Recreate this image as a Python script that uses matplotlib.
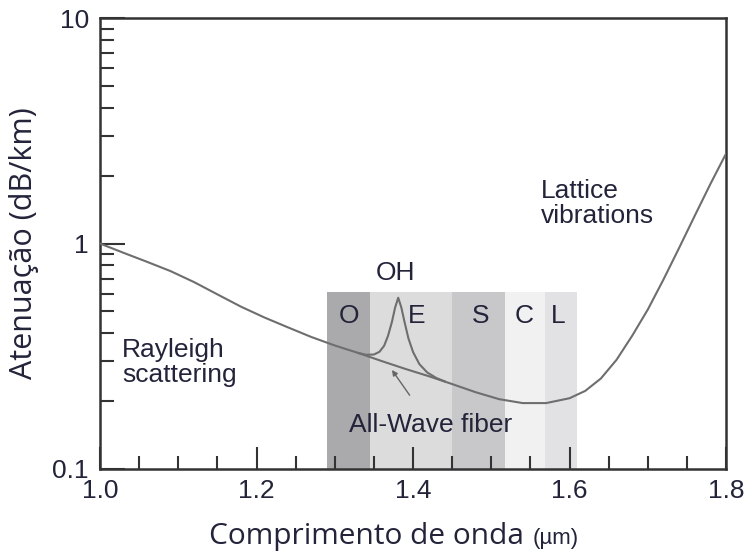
import matplotlib.pyplot as plt
from matplotlib.ticker import FixedLocator, NullFormatter

# bandas de transmissao (um)
band_names = ['O', 'E', 'S', 'C', 'L']
band_start = [1.29, 1.345, 1.45, 1.517, 1.568]
band_end = [1.345, 1.45, 1.517, 1.568, 1.61]
band_colors = ['#aaaaac', '#dcdcdd', '#c8c8ca', '#f1f1f1', '#e2e2e4']
band_top = 0.61
band_label_x = [1.318, 1.405, 1.486, 1.542, 1.585]

# curva principal (All-Wave fiber)
wl = [1.00, 1.03, 1.06, 1.09, 1.12, 1.15, 1.18, 1.21, 1.24, 1.27,
      1.30, 1.33, 1.36, 1.39, 1.42, 1.45, 1.48, 1.51, 1.54, 1.57,
      1.60, 1.62, 1.64, 1.66, 1.68, 1.70, 1.72, 1.74, 1.76, 1.78, 1.80]
att = [1.00, 0.91, 0.83, 0.755, 0.675, 0.595, 0.525, 0.47, 0.425, 0.385,
       0.353, 0.327, 0.301, 0.278, 0.258, 0.238, 0.219, 0.204, 0.196, 0.196,
       0.206, 0.222, 0.252, 0.305, 0.39, 0.51, 0.693, 0.957, 1.33, 1.84, 2.51]

# pico de OH
oh_wl = [1.33, 1.34, 1.35, 1.357, 1.363, 1.368, 1.373, 1.377, 1.381, 1.385,
         1.389, 1.394, 1.40, 1.408, 1.418, 1.43, 1.44]
oh_att = [0.327, 0.321, 0.322, 0.331, 0.352, 0.39, 0.45, 0.52, 0.575, 0.52,
          0.45, 0.38, 0.33, 0.292, 0.268, 0.253, 0.245]

txt = '#23233a'
plt.rcParams['font.family'] = ['Liberation Sans', 'DejaVu Sans']

fig = plt.figure(figsize=(7.47, 5.53), dpi=100)
ax = fig.add_axes([0.134, 0.152, 0.838, 0.815])

for x0, x1, c in zip(band_start, band_end, band_colors):
    ax.fill_between([x0, x1], 0.1, band_top, color=c, lw=0, zorder=0)
for name, x in zip(band_names, band_label_x):
    ax.text(x, 0.477, name, ha='center', va='center', fontsize=19, color=txt)

ax.plot(wl, att, color='#6e6e6e', lw=1.5, zorder=3)
ax.plot(oh_wl, oh_att, color='#6e6e6e', lw=1.5, zorder=3)

ax.text(1.377, 0.74, 'OH', ha='center', va='center', fontsize=19, color=txt)
ax.text(1.028, 0.298, 'Rayleigh\nscattering', ha='left', va='center',
        fontsize=19, color=txt, linespacing=1.05)
ax.text(1.563, 1.51, 'Lattice\nvibrations', ha='left', va='center',
        fontsize=19, color=txt, linespacing=1.05)
ax.annotate('All-Wave fiber', xy=(1.373, 0.275), xytext=(1.422, 0.157),
            ha='center', va='center', fontsize=19, color=txt,
            arrowprops=dict(arrowstyle='-|>', color='#666666', lw=1.0,
                            shrinkA=13, shrinkB=0, mutation_scale=8))

ax.set_yscale('log')
ax.set_xlim(1.0, 1.8)
ax.set_ylim(0.1, 10)

ax.xaxis.set_major_locator(FixedLocator([1.0, 1.2, 1.4, 1.6, 1.8]))
ax.xaxis.set_minor_locator(FixedLocator([1.0 + 0.05 * i for i in range(17)]))
ax.set_xticklabels(['1.0', '1.2', '1.4', '1.6', '1.8'])
ax.yaxis.set_major_locator(FixedLocator([0.1, 1, 10]))
ax.yaxis.set_minor_locator(FixedLocator([k * 0.1 for k in range(2, 10)] + list(range(2, 10))))
ax.yaxis.set_minor_formatter(NullFormatter())
ax.set_yticklabels(['0.1', '1', '10'])

ax.tick_params(which='both', direction='in', width=1.5, color='#333333',
               labelsize=19, labelcolor=txt)
ax.tick_params(axis='x', which='major', length=16, pad=7)
ax.tick_params(axis='x', which='minor', length=9.5)
ax.tick_params(axis='y', which='major', length=18, pad=8)
ax.tick_params(axis='y', which='minor', length=10)
for s in ax.spines.values():
    s.set_linewidth(1.8)
    s.set_color('#333333')

ax.set_ylabel('Atenuação (dB/km)', fontsize=22, family='Open Sans',
              color=txt, labelpad=10)
fig.text(366 / 747, 9 / 553, 'Comprimento de onda', fontsize=21.5,
         family='Open Sans', color=txt, ha='center', va='baseline')
fig.text(533 / 747, 9 / 553, '(µm)', fontsize=16, color=txt,
         ha='left', va='baseline')

fig.savefig('out.png', dpi=100)
